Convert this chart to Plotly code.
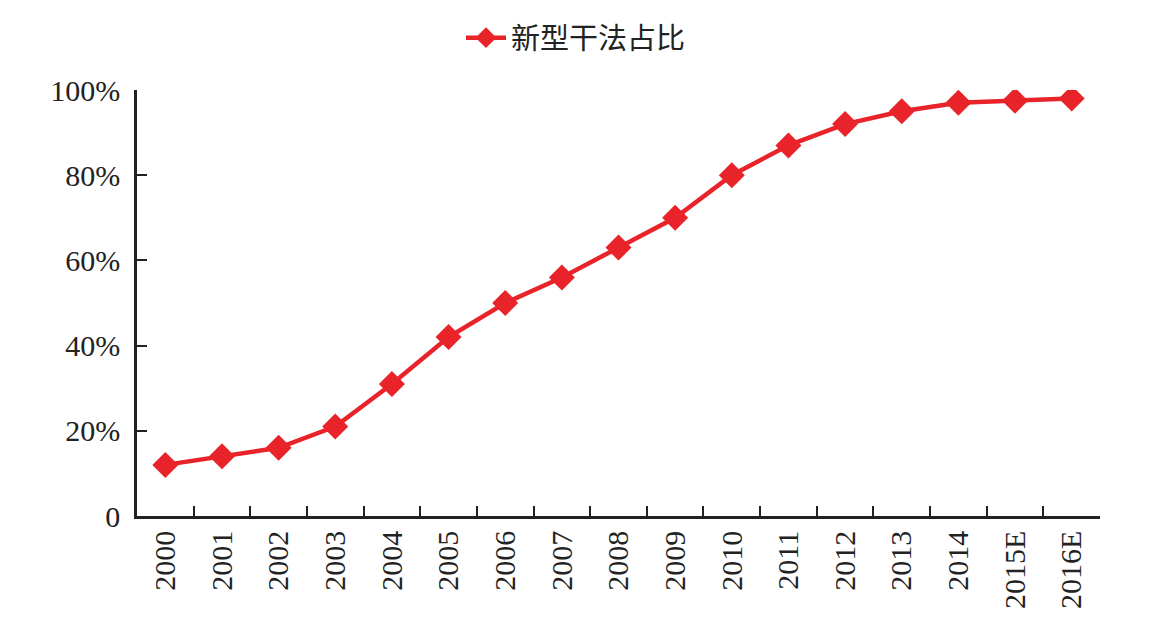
import plotly.graph_objects as go

years = ["2000", "2001", "2002", "2003", "2004", "2005", "2006", "2007", "2008",
         "2009", "2010", "2011", "2012", "2013", "2014", "2015E", "2016E"]
share = [0.12, 0.14, 0.16, 0.21, 0.31, 0.42, 0.50, 0.56, 0.63,
         0.70, 0.80, 0.87, 0.92, 0.95, 0.97, 0.975, 0.98]
y_tickvals = [0, 0.2, 0.4, 0.6, 0.8, 1.0]
y_ticktext = ["0", "20%", "40%", "60%", "80%", "100%"]
series_name = "新型干法占比"

red = "#E8242A"
axis_col = "#222222"
serif = "Liberation Serif, Times New Roman, serif"

fig = go.Figure()
fig.add_trace(go.Scatter(
    x=years, y=share, name=series_name, mode="lines+markers",
    line=dict(color=red, width=4.5),
    marker=dict(symbol="diamond", size=20, color=red),
))

fig.update_layout(
    width=1152, height=630,
    margin=dict(l=137, r=52, t=90, b=114, autoexpand=False),
    paper_bgcolor="white", plot_bgcolor="white",
    showlegend=True,
    legend=dict(orientation="h", xref="container", x=0.5, xanchor="center",
                yref="container", y=0.94, yanchor="middle",
                font=dict(family="Noto Sans CJK SC, Noto Sans CJK JP, serif", size=29, color="#222"),
                itemwidth=40),
    font=dict(family=serif, color="#222"),
)

fig.update_xaxes(
    type="category", tickson="boundaries", ticks="inside", ticklen=10, tickwidth=2,
    tickcolor=axis_col, showline=True, linecolor=axis_col, linewidth=2.5,
    showgrid=False, tickangle=-90, tickfont=dict(family=serif, size=30, color="#222"),
    range=[-0.5, len(years) - 0.5], automargin=False,
)
fig.update_yaxes(
    range=[0, 1.0], tickvals=y_tickvals, ticktext=y_ticktext,
    ticks="inside", ticklen=10, tickwidth=2, tickcolor=axis_col,
    showline=True, linecolor=axis_col, linewidth=2.5, showgrid=False, zeroline=False,
    tickfont=dict(family=serif, size=30, color="#222"), ticklabelstandoff=8,
    automargin=False,
)

fig.write_html("out.html")
